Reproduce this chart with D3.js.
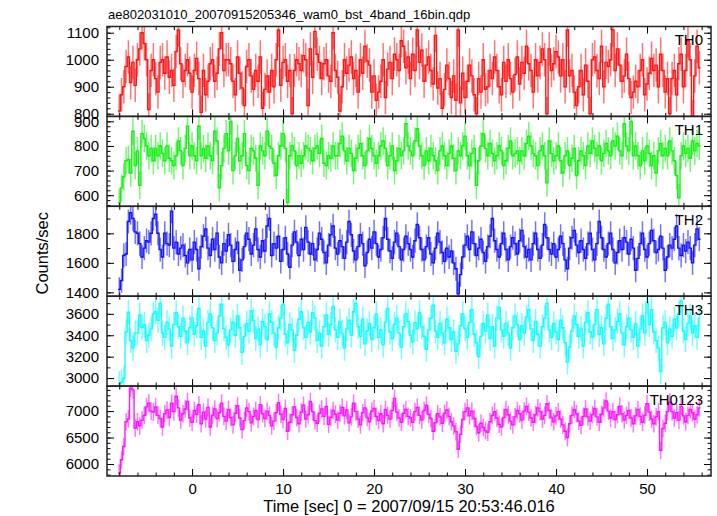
<!DOCTYPE html>
<html><head><meta charset="utf-8">
<script src="https://cdn.jsdelivr.net/npm/d3@7"></script>
<style>html,body{margin:0;padding:0;background:#fff}text{font-family:"Liberation Sans",Arial,Helvetica,sans-serif}</style>
</head><body><svg id="c" width="717" height="516"></svg>
<script>
// ---- data ----
const title = "ae802031010_20070915205346_wam0_bst_4band_16bin.qdp";
const xLabel = "Time [sec] 0 = 2007/09/15 20:53:46.016";
const yLabel = "Counts/sec";
const bands = ["TH0", "TH1", "TH2", "TH3", "TH0123"];
const colors = ["#ff0000", "#00ee00", "#0000ff", "#00ffff", "#ff00ff"];
const binStart = -8.125;   // s, left edge of first bin
const binWidth = 0.25;     // s
const binErr = [62, 56, 82, 117, 166]; // typical 1-sigma error bar per band
const xTickMajor = [0, 10, 20, 30, 40, 50];
const yTickMajor = [[800, 900, 1000, 1100], [600, 700, 800, 900], [1400, 1600, 1800], [3000, 3200, 3400, 3600], [6000, 6500, 7000]];
const yTickMinorStep = [20, 20, 100, 100, 100];
const yDomains = [[790, 1123], [555, 920], [1374, 1983], [2925, 3765], [5774, 7472]];
const xDomain = [-9.35, 57.03];

const th0 = [
810,870,900,975,1010,915,990,905,1000,1040,1100,1060,1000,815,960,1000,
930,880,990,1000,950,1010,935,960,905,1030,1110,985,920,960,1000,950,
880,960,1005,930,805,960,870,920,985,1000,920,950,1040,1100,960,1000,
1000,985,920,870,1010,950,895,830,975,1000,940,890,960,920,1010,820,
890,940,880,960,900,1000,1110,905,990,1000,920,960,800,960,1000,985,
960,1015,1000,830,1040,935,1105,1020,990,930,985,1000,940,920,1100,960,
935,810,900,1000,950,980,1010,930,960,880,1000,950,1050,995,980,880,
940,850,880,920,1000,860,965,990,930,1020,1000,960,1070,1050,970,1010,
930,1020,960,1110,990,1035,920,980,1010,960,910,1090,895,930,820,890,
980,930,860,940,850,1110,840,950,860,920,980,940,870,800,930,880,
1000,890,900,960,930,1010,960,900,870,990,920,1000,930,880,945,1010,
910,990,950,1050,985,960,880,1000,940,990,1040,1000,800,1040,960,985,
1030,1010,940,1000,900,1110,940,960,880,830,900,960,870,980,920,800,
1000,1010,960,930,1050,900,990,975,1000,1110,960,1040,980,920,940,1020,
930,860,880,920,900,960,1000,870,910,950,1005,960,980,900,1020,960,
880,930,800,930,960,870,985,1020,900,960,1070,1000,790,940,1050,970];
const th1 = [
570,630,675,740,745,690,860,720,780,640,850,830,800,760,790,740,
790,760,800,770,740,800,750,740,720,760,820,780,720,790,880,760,
800,760,740,880,760,790,750,800,760,740,860,820,630,720,790,850,
780,900,700,760,830,740,760,850,720,700,790,780,750,640,800,780,
760,860,800,790,730,680,760,800,850,790,570,760,800,780,720,760,
730,760,800,790,780,740,790,800,770,830,730,720,760,750,800,760,
760,810,840,780,740,790,770,700,750,790,810,760,720,780,830,790,
760,730,760,800,820,790,720,760,800,700,740,790,760,780,890,800,
780,760,820,870,800,760,720,780,740,790,760,740,700,780,800,760,
720,770,800,750,700,780,760,800,840,760,720,770,790,640,740,800,
850,790,760,810,770,740,760,800,780,720,740,790,820,760,770,780,
740,780,760,810,840,800,770,760,720,780,800,760,650,820,770,740,
760,800,740,690,760,780,720,750,790,680,740,780,760,720,800,770,
820,790,760,800,740,770,810,780,760,820,800,840,780,760,890,800,
780,900,760,800,760,720,780,740,800,770,720,760,690,780,810,760,
790,760,820,780,740,680,590,760,800,770,790,750,820,780,810,800];
const th2 = [
1420,1480,1650,1660,1880,1940,1900,1810,1800,1730,1640,1700,1750,1740,1800,1900,
1930,1800,1690,1640,1800,1730,1720,1950,1700,1740,1660,1700,1720,1650,1600,1690,
1620,1740,1690,1560,1710,1780,1830,1700,1650,1760,1690,1800,1640,1600,1730,1680,
1790,1720,1610,1690,1740,1550,1620,1710,1800,1760,1660,1720,1830,1690,1640,1750,
1680,1850,1900,1650,1730,1700,1780,1610,1690,1770,1660,1570,1720,1810,1740,1650,
1760,1690,1840,1740,1660,1730,1620,1690,1800,1760,1670,1600,1720,1790,1850,1700,
1660,1750,1710,1630,1740,1880,1790,1680,1620,1710,1790,1730,1580,1670,1760,1700,
1810,1730,1640,1690,1770,1900,1760,1680,1630,1740,1800,1710,1620,1690,1780,1730,
1690,1640,1750,1860,1770,1690,1620,1710,1770,1660,1600,1700,1800,1740,1670,1610,
1700,1640,1680,1600,1560,1390,1520,1640,1720,1780,1690,1810,1730,1650,1700,1760,
1670,1610,1710,1780,1900,1750,1690,1640,1730,1800,1690,1620,1710,1770,1730,1660,
1750,1820,1710,1640,1690,1620,1730,1800,1690,1630,1720,1860,1770,1690,1660,1730,
1640,1690,1780,1730,1620,1560,1700,1770,1820,1720,1670,1750,1690,1630,1730,1800,
1690,1620,1730,1880,1770,1690,1640,1730,1800,1690,1600,1670,1750,1690,1770,1740,
1660,1760,1700,1550,1630,1730,1800,1690,1640,1730,1820,1750,1670,1690,1780,1700,
1550,1640,1720,1700,1760,1850,1700,1650,1720,1680,1740,1700,1600,1720,1830,1760];
const th3 = [
2950,2960,3000,3430,3615,3350,3280,3420,3420,3590,3475,3500,3350,3400,3460,3600,
3620,3540,3700,3420,3380,3520,3460,3300,3500,3610,3480,3390,3560,3440,3330,3470,
3560,3410,3490,3650,3380,3440,3300,3520,3600,3470,3350,3420,3580,3690,3460,3380,
3310,3450,3520,3400,3580,3470,3240,3390,3510,3440,3630,3540,3370,3460,3310,3530,
3480,3360,3600,3520,3420,3290,3470,3560,3690,3410,3330,3500,3450,3260,3400,3550,
3620,3470,3380,3520,3430,3610,3560,3350,3420,3300,3480,3590,3410,3500,3670,3450,
3380,3530,3420,3280,3460,3540,3400,3620,3700,3480,3390,3550,3320,3440,3510,3360,
3470,3600,3380,3450,3310,3520,3650,3430,3370,3500,3560,3420,3290,3480,3600,3530,
3400,3340,3520,3460,3610,3480,3390,3270,3450,3560,3680,3440,3380,3510,3420,3330,
3550,3470,3360,3430,3250,3320,3490,3600,3460,3380,3520,3640,3410,3330,3200,3390,
3510,3440,3590,3370,3480,3300,3560,3660,3450,3390,3510,3420,3280,3470,3580,3500,
3360,3490,3420,3570,3640,3460,3350,3530,3410,3300,3480,3560,3700,3450,3380,3510,
3430,3360,3540,3470,3330,3150,3290,3440,3580,3500,3390,3460,3300,3520,3610,3430,
3380,3500,3640,3410,3470,3320,3560,3690,3480,3370,3450,3530,3600,3420,3310,3480,
3560,3450,3380,3510,3300,3460,3580,3420,3710,3500,3640,3430,3350,3280,3060,3470,
3520,3330,3460,3390,3550,3470,3600,3720,3440,3360,3510,3580,3420,3490,3380,3560];
const th0123 = [
5830,6080,6330,6800,6850,7430,7400,6680,6800,6720,6830,6920,7080,7150,7000,6980,
7080,6920,6860,6700,6950,7020,6880,7150,6990,7280,7060,6830,6950,7040,7180,6870,
6790,7010,6940,7120,6760,6980,6850,7070,6700,6920,7040,6860,6970,7150,6900,6810,
7030,6880,6740,6960,7100,6870,6650,6820,7060,6990,6780,6900,7010,6840,7120,6950,
6860,7000,6920,6720,6810,6970,7160,6940,6840,7050,6620,6790,6930,7080,6880,6760,
6980,7110,6850,6930,7180,6990,6820,6770,6960,7040,6900,7090,6750,6880,7010,6940,
6830,6960,7070,6910,7020,6780,6890,7150,6990,6850,6740,6970,7060,6880,6800,7000,
7050,6900,6820,6950,6760,7030,6920,6850,7010,7240,6980,6870,6790,6960,7030,6900,
6870,6790,6990,7070,6920,6830,7010,7110,6940,6860,6620,6780,6950,6890,6770,6960,
7020,6900,6800,6720,6610,6280,6560,6840,6990,7060,6910,7000,6860,6710,6590,6770,
6690,6630,6600,6800,6920,6990,6870,6750,6700,6880,7030,6930,6810,6740,6890,7010,
6950,6830,7000,7090,6980,6870,6790,6930,7060,6990,6850,6920,7140,7010,6880,6800,
6910,6990,6850,6740,6620,6500,6760,6920,7030,6950,6810,6730,6900,7040,6890,6810,
6930,7050,6890,6790,6940,7060,7190,7000,6870,6990,6840,6930,7090,6950,6830,6920,
7010,6870,6760,6910,7030,6900,6790,6920,7140,6980,6850,6760,6890,6990,6260,6670,
6770,6990,7170,6990,6870,6970,6830,7090,6910,6800,6920,7030,6970,6850,6930,7060];
const series = [th0, th1, th2, th3, th0123];

// ---- layout ----
const W = 717, H = 516;
const L = 107, R = 711, T = 26.5, B = 476;
const ph = (B - T) / bands.length;
const svg = d3.select("#c");
svg.append("rect").attr("width", W).attr("height", H).attr("fill", "#fff");

const x = d3.scaleLinear().domain(xDomain).range([L, R]);
const xMinor = d3.range(-8, 57, 2);
const font = 15;
const ff = '"Liberation Sans",Arial,sans-serif';

svg.append("text").attr("x", 108).attr("y", 19).attr("font-size", 13).attr("fill", "#000").text(title);

bands.forEach((name, k) => {
  const top = T + k * ph, bot = top + ph;
  const y = d3.scaleLinear().domain(yDomains[k]).range([bot, top]);
  const g = svg.append("g");
  const cid = "clip" + k;
  svg.append("clipPath").attr("id", cid).append("rect").attr("x", L).attr("y", top).attr("width", R - L).attr("height", ph);

  const vals = series[k];
  const dg = g.append("g").attr("clip-path", `url(#${cid})`);
  dg.selectAll("line.err").data(vals).join("line")
    .attr("x1", (d, i) => x(binStart + (i + 0.5) * binWidth))
    .attr("x2", (d, i) => x(binStart + (i + 0.5) * binWidth))
    .attr("y1", d => y(d - binErr[k])).attr("y2", d => y(d + binErr[k]))
    .attr("stroke", colors[k]).attr("stroke-opacity", 0.55).attr("stroke-width", 1.5);
  const pts = vals.map((v, i) => [binStart + i * binWidth, v]);
  pts.push([binStart + vals.length * binWidth, vals[vals.length - 1]]);
  dg.append("path").datum(pts)
    .attr("d", d3.line().x(d => x(d[0])).y(d => y(d[1])).curve(d3.curveStepAfter))
    .attr("fill", "none").attr("stroke", colors[k]).attr("stroke-width", 1.4).attr("stroke-opacity", 0.9);

  const [y0, y1] = yDomains[k];
  const minorY = d3.range(Math.ceil(y0 / yTickMinorStep[k]) * yTickMinorStep[k], y1, yTickMinorStep[k]);
  const styleAxis = a => { a.select(".domain").remove(); a.selectAll("line").attr("stroke", "#000"); };
  g.append("g").attr("transform", `translate(${L},0)`)
    .call(d3.axisLeft(y).tickValues(minorY).tickSize(-3.5).tickFormat("")).call(styleAxis);
  g.append("g").attr("transform", `translate(${R},0)`)
    .call(d3.axisRight(y).tickValues(minorY).tickSize(-3.5).tickFormat("")).call(styleAxis);
  const ya = g.append("g").attr("transform", `translate(${L},0)`)
    .call(d3.axisLeft(y).tickValues(yTickMajor[k]).tickSize(-7).tickFormat(d3.format("d"))).call(styleAxis);
  ya.selectAll("text").attr("x", -8).attr("font-size", font).attr("fill", "#000").style("font-family", ff);
  g.append("g").attr("transform", `translate(${R},0)`)
    .call(d3.axisRight(y).tickValues(yTickMajor[k]).tickSize(-7).tickFormat("")).call(styleAxis);
  g.append("g").attr("transform", `translate(0,${top})`)
    .call(d3.axisTop(x).tickValues(xMinor).tickSize(-3.5).tickFormat("")).call(styleAxis);
  g.append("g").attr("transform", `translate(0,${top})`)
    .call(d3.axisTop(x).tickValues(xTickMajor).tickSize(-7).tickFormat("")).call(styleAxis);
  g.append("g").attr("transform", `translate(0,${bot})`)
    .call(d3.axisBottom(x).tickValues(xMinor).tickSize(-3.5).tickFormat("")).call(styleAxis);
  const xa = g.append("g").attr("transform", `translate(0,${bot})`)
    .call(d3.axisBottom(x).tickValues(xTickMajor).tickSize(-7).tickPadding(7)
      .tickFormat(k === bands.length - 1 ? d3.format("d") : "")).call(styleAxis);
  xa.selectAll("text").attr("font-size", font).attr("fill", "#000").style("font-family", ff);

  g.append("rect").attr("x", L).attr("y", top).attr("width", R - L).attr("height", ph)
    .attr("fill", "none").attr("stroke", "#222").attr("stroke-width", 1.5);
  g.append("text").attr("x", 703).attr("y", top + 18.5).attr("text-anchor", "end")
    .attr("font-size", font).attr("fill", "#000").text(name);
});

svg.append("text").attr("x", 409).attr("y", 512).attr("text-anchor", "middle")
  .attr("font-size", 16.5).attr("fill", "#000").text(xLabel);
svg.append("text").attr("transform", `translate(48,${(T + B) / 2 + 2}) rotate(-90)`)
  .attr("text-anchor", "middle").attr("font-size", 16.5).attr("fill", "#000").text(yLabel);
</script></body></html>
